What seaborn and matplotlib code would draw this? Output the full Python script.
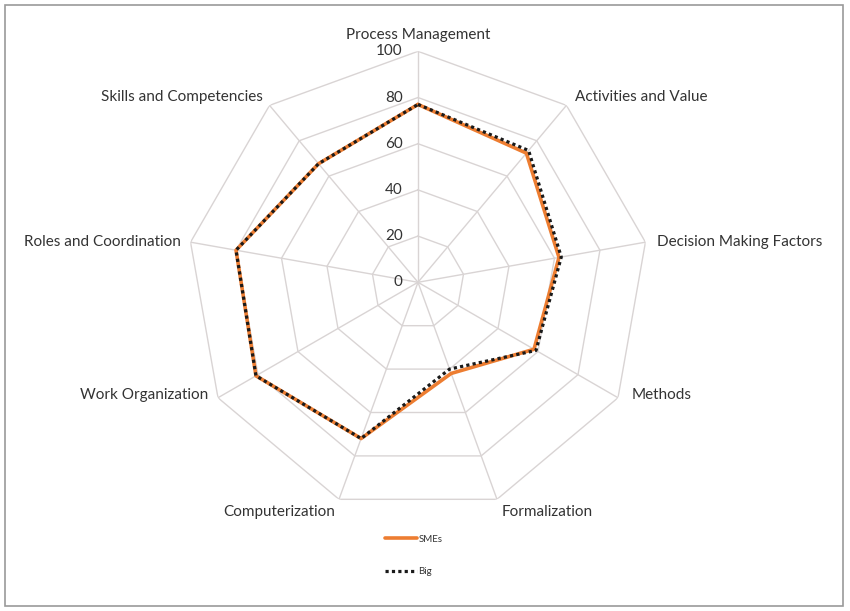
import numpy as np
import pandas as pd
import matplotlib
matplotlib.use("Agg")
import matplotlib.pyplot as plt
import seaborn as sns
from matplotlib.patches import Rectangle

# Categories, clockwise from the top
categories = ["Process Management", "Activities and Value", "Decision Making Factors",
              "Methods", "Formalization", "Computerization", "Work Organization",
              "Roles and Coordination", "Skills and Competencies"]
smes = [77, 73, 62, 58, 42, 72, 81, 80, 67]
big = [77, 74.5, 63, 59, 40, 72, 81, 80, 67]
levels = [0, 20, 40, 60, 80, 100]

sns.set_theme(style="white")
plt.rcParams["font.family"] = ["Lato", "DejaVu Sans"]

n = len(categories)
angles = np.linspace(0, 2 * np.pi, n, endpoint=False)

# Long table, each loop closed by repeating the first point
rows = []
for name, vals in [("SMEs", smes), ("Big", big)]:
    for i in list(range(n)) + [0]:
        rows.append({"series": name, "theta": angles[i], "value": vals[i]})
df = pd.DataFrame(rows)

fig = plt.figure(figsize=(8.5, 6.11), dpi=100)
ax = fig.add_axes([0.22, 0.160, 0.5435, 0.756], projection="polar")
ax.set_theta_zero_location("N")
ax.set_theta_direction(-1)
ax.set_ylim(0, 100)
ax.grid(False)
ax.spines["polar"].set_visible(False)
ax.set_xticks([])
ax.set_yticks([])

# polygon grid and spokes
grid_col = "#d9d4d4"
closed = np.append(angles, angles[0])
for lv in levels[1:]:
    ax.plot(closed, [lv] * (n + 1), color=grid_col, lw=1, zorder=1)
for a in angles:
    ax.plot([a, a], [0, 100], color=grid_col, lw=1, zorder=1)

sns.lineplot(data=df[df.series == "SMEs"], x="theta", y="value", sort=False, ax=ax,
             color="#ed7d31", lw=2.6, label="SMEs", zorder=3, estimator=None)
sns.lineplot(data=df[df.series == "Big"], x="theta", y="value", sort=False, ax=ax,
             color="#1a1a1a", lw=2.3, linestyle=(0, (1, 1)), label="Big", zorder=4, estimator=None)
ax.set_xlabel("")
ax.set_ylabel("")
ax.get_legend().remove()

txt = "#333333"
for lv in levels:
    ax.annotate(str(lv), xy=(0, lv), xytext=(-11, 0), textcoords="offset points",
                ha="right", va="center", fontsize=11, color=txt)

placements = {
    0: ("center", "bottom", (0, 7)),
    1: ("left", "bottom", (6, 1)),
    2: ("left", "center", (8, 0)),
    3: ("left", "center", (10, 2)),
    4: ("left", "top", (3, -4)),
    5: ("right", "top", (-3, -4)),
    6: ("right", "center", (-7, 2)),
    7: ("right", "center", (-7, 0)),
    8: ("right", "bottom", (-5, 1)),
}
for i, lab in enumerate(categories):
    ha, va, off = placements[i]
    ax.annotate(lab, xy=(angles[i], 100), xytext=off, textcoords="offset points",
                ha=ha, va=va, fontsize=11, color=txt, annotation_clip=False)

handles, labels = ax.get_legend_handles_labels()
fig.legend(handles, labels, loc="center", bbox_to_anchor=(0.487, 0.091), ncol=1,
           frameon=False, fontsize=7, handlelength=3.2, labelspacing=2.4,
           handletextpad=0.2, labelcolor=txt)

fig.patches.append(Rectangle((0.006, 0.008), 0.986, 0.984, transform=fig.transFigure,
                             fill=False, edgecolor="#9a9a9a", lw=1.2))

fig.savefig("out.png", dpi=100)
